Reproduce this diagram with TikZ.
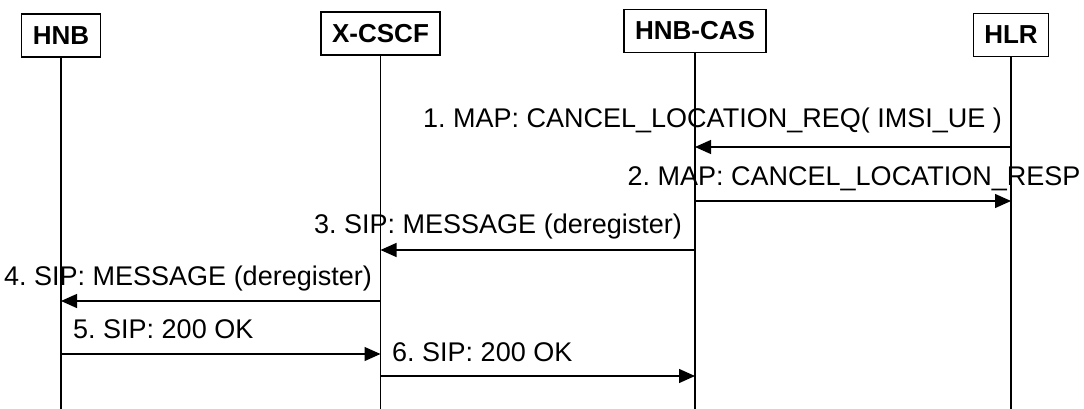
\documentclass[tikz,border=0pt]{standalone}
\usepackage{fontspec}
\setmainfont{Liberation Sans}
\usetikzlibrary{arrows.meta}
\frenchspacing
\tikzset{
  entity/.style={
    draw,
    line width=1.3pt,
    minimum height=43pt,
    inner xsep=11pt,
    font=\fontsize{26}{30}\selectfont\bfseries,
  },
  lifeline/.style={
    line width=1.3pt,
  },
  msg/.style={
    -{Triangle[length=16pt,width=14pt]},
    line width=1.3pt,
  },
  msglabel/.style={
    inner sep=0pt,
    font=\fontsize{27}{32}\selectfont,
  },
}

\begin{document}
\begin{tikzpicture}[x=1pt, y=-1pt]
  \useasboundingbox (0,0) rectangle (1084,409);

  % --- entities ---
  \node[entity] (hnb) at (61,35.5) {HNB};
  \node[entity] (xcscf) at (380.5,33.5) {X-CSCF};
  \node[entity] (cas) at (695,31) {HNB-CAS};
  \node[entity] (hlr) at (1011,35) {HLR};

  % --- lifelines ---
  \coordinate (hnbEnd) at (61,409);
  \coordinate (xcscfEnd) at (380.5,409);
  \coordinate (casEnd) at (695,409);
  \coordinate (hlrEnd) at (1011,409);
  \draw[lifeline] (hnb) -- (hnbEnd);
  \draw[lifeline] (xcscf) -- (xcscfEnd);
  \draw[lifeline] (cas) -- (casEnd);
  \draw[lifeline] (hlr) -- (hlrEnd);

  % --- messages ---
  \draw[msg] (hlr |- 0,147) -- (cas |- 0,147);
  \node[msglabel, anchor=base east] (m1) at (1002,128) {1. MAP: CANCEL\_LOCATION\_REQ( IMSI\_UE )};

  \draw[msg] (cas |- 0,201) -- (hlr |- 0,201);
  \node[msglabel, anchor=base] (m2) at (854,185) {2. MAP: CANCEL\_LOCATION\_RESP};

  \draw[msg] (cas |- 0,250) -- (xcscf |- 0,250);
  \node[msglabel, anchor=base east] (m3) at (682,233) {3. SIP: MESSAGE (deregister)};

  \draw[msg] (xcscf |- 0,301) -- (hnb |- 0,301);
  \node[msglabel, anchor=base east] (m4) at (372,285) {4. SIP: MESSAGE (deregister)};

  \draw[msg] (hnb |- 0,354) -- (xcscf |- 0,354);
  \node[msglabel, anchor=base west] (m5) at (73,338) {5. SIP: 200 OK};

  \draw[msg] (xcscf |- 0,376) -- (cas |- 0,376);
  \node[msglabel, anchor=base west] (m6) at (392,361) {6. SIP: 200 OK};
\end{tikzpicture}
\end{document}
